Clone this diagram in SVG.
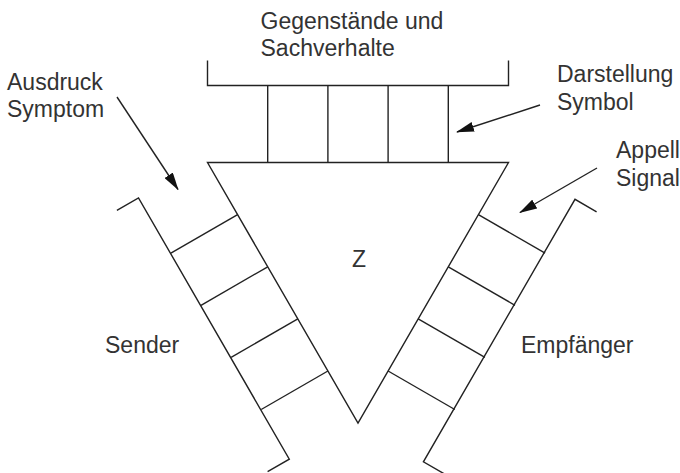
<svg xmlns="http://www.w3.org/2000/svg" width="680" height="473" viewBox="0 0 680 473">
  <style>
    .ln { fill: none; stroke: #222; stroke-width: 1.4; stroke-linejoin: miter; }
    .tx { font-family: "Liberation Sans", Arial, sans-serif; font-size: 23px; fill: #333; }
    .ar { fill: none; stroke: #222; stroke-width: 1.4; marker-end: url(#head); }
  </style>
  <defs>
    <marker id="head" viewBox="0 0 18 10" refX="17" refY="5" markerWidth="18" markerHeight="10" markerUnits="userSpaceOnUse" orient="auto">
      <path d="M0,0 L18,5 L0,10 Z" fill="#111"/>
    </marker>
  </defs>
  <rect width="680" height="473" fill="#fff"/>

  <g id="triangle">
    <polygon class="ln" points="207.5,162.5 508.5,162.5 358,423.2"/>
    <text class="tx" x="352" y="267">Z</text>
  </g>

  <g id="top-ladder">
    <polyline class="ln" points="207.5,60.5 207.5,85.5 508.5,85.5 508.5,60.5"/>
    <line class="ln" x1="267.7" y1="85.5" x2="267.7" y2="162.5"/>
    <line class="ln" x1="327.9" y1="85.5" x2="327.9" y2="162.5"/>
    <line class="ln" x1="388.1" y1="85.5" x2="388.1" y2="162.5"/>
    <line class="ln" x1="448.3" y1="85.5" x2="448.3" y2="162.5"/>
  </g>

  <g id="left-ladder">
    <polyline class="ln" points="116.9,210.4 138.5,197.9 289.3,459.2 267.6,471.7"/>
    <line class="ln" x1="237.6" y1="214.6" x2="170.9" y2="253.1"/>
    <line class="ln" x1="267.7" y1="266.8" x2="201.0" y2="305.3"/>
    <line class="ln" x1="297.8" y1="318.9" x2="231.1" y2="357.4"/>
    <line class="ln" x1="327.9" y1="371.0" x2="261.2" y2="409.5"/>
  </g>

  <g id="right-ladder">
    <polyline class="ln" points="596.6,211.8 575,199.3 423.4,461.8 445.1,474.3"/>
    <line class="ln" x1="478.4" y1="214.6" x2="545.1" y2="253.1"/>
    <line class="ln" x1="448.3" y1="266.8" x2="515.0" y2="305.3"/>
    <line class="ln" x1="418.2" y1="318.9" x2="484.9" y2="357.4"/>
    <line class="ln" x1="388.1" y1="371.0" x2="454.8" y2="409.5"/>
  </g>

  <g id="gegenstaende">
    <text class="tx" x="260.5" y="29">Gegenstände und</text>
    <text class="tx" x="260.5" y="56">Sachverhalte</text>
  </g>
  <g id="ausdruck">
    <text class="tx" x="7" y="90">Ausdruck</text>
    <text class="tx" x="7" y="117">Symptom</text>
  </g>
  <g id="darstellung">
    <text class="tx" x="557" y="82">Darstellung</text>
    <text class="tx" x="557" y="110">Symbol</text>
  </g>
  <g id="appell">
    <text class="tx" x="616" y="158">Appell</text>
    <text class="tx" x="616" y="186">Signal</text>
  </g>
  <g id="sender">
    <text class="tx" x="105" y="353">Sender</text>
  </g>
  <g id="empfaenger">
    <text class="tx" x="521" y="353">Empfänger</text>
  </g>

  <g id="connectors">
    <line class="ar" x1="117" y1="97" x2="178" y2="189.5"/>
    <line class="ar" x1="540" y1="105" x2="457" y2="132"/>
    <line class="ar" x1="597" y1="168" x2="520" y2="212.5"/>
  </g>
</svg>
